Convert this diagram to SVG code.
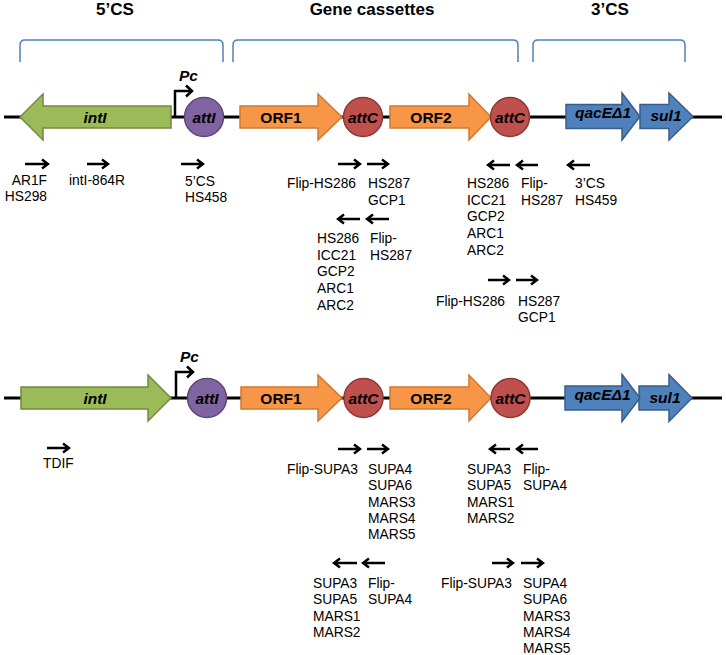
<svg xmlns="http://www.w3.org/2000/svg" width="726" height="655" viewBox="0 0 726 655">
<style>
.bg{fill:#ffffff}
.title{font-family:"Liberation Sans",Arial,sans-serif;font-size:17px;font-weight:bold;fill:#000;text-anchor:middle}
.brk{fill:none;stroke:#4f81bd;stroke-width:1.5}
.bb{stroke:#000;stroke-width:3;fill:none}
.prom{stroke:#000;stroke-width:2.5;fill:none;stroke-linejoin:miter}
.green{fill:#9bbb59;stroke:#71893f;stroke-width:1.5}
.purple{fill:#8064a2;stroke:#5c4776;stroke-width:1.5}
.orange{fill:#f79646;stroke:#d2782f;stroke-width:1.5}
.red{fill:#c0504d;stroke:#8c3836;stroke-width:1.5}
.blue{fill:#4f81bd;stroke:#385d8a;stroke-width:1.5}
.gl{font-family:"Liberation Sans",Arial,sans-serif;font-size:15.5px;font-weight:bold;fill:#000;text-anchor:middle}
.it{font-style:italic}
.pr{stroke:#000;stroke-width:2.4;fill:none}
.lb{font-family:"Liberation Sans",Arial,sans-serif;font-size:13.8px;fill:#000}
.end{text-anchor:end}
</style>
<rect class="bg" x="0" y="0" width="726" height="655"/>

<g id="titles">
<text class="title" x="115" y="15">5’CS</text>
<text class="title" x="372" y="15">Gene cassettes</text>
<text class="title" x="610" y="15">3’CS</text>
</g>

<g id="brackets">
<path class="brk" d="M20,62 V45 Q20,40 25,40 H218 Q223,40 223,45 V62"/>
<path class="brk" d="M233,62 V45 Q233,40 238,40 H513 Q518,40 518,45 V62"/>
<path class="brk" d="M533,62 V45 Q533,40 538,40 H680 Q685,40 685,45 V62"/>
</g>

<g id="connectors">
<line class="bb" x1="4" y1="117" x2="722" y2="117"/>
<line class="bb" x1="4" y1="398" x2="722" y2="398"/>
<path class="prom" d="M175,117 V91 H192 M186,85.5 L192,91 L186,96.5"/>
<path class="prom" d="M176,398 V372 H193 M187,366.5 L193,372 L187,377.5"/>
</g>

<!-- Row 1 -->
<g id="intI-1">
<polygon class="green" points="20,117 43,94 43,106 171,106 171,128 43,128 43,140"/>
<text class="gl it" x="95" y="122.5">intI</text>
</g>
<g id="Pc-1"><text class="gl it" x="179" y="81" style="text-anchor:start">Pc</text></g>
<g id="attI-1">
<circle class="purple" cx="204" cy="117" r="19.5"/>
<text class="gl it" x="204" y="122.5">attI</text>
</g>
<g id="ORF1-1">
<polygon class="orange" points="240,106 318,106 318,94 342,117 318,140 318,128 240,128"/>
<text class="gl" x="281" y="122.5">ORF1</text>
</g>
<g id="attC1-1">
<circle class="red" cx="363" cy="117" r="19.5"/>
<text class="gl it" x="363" y="122.5">attC</text>
</g>
<g id="ORF2-1">
<polygon class="orange" points="390,106 469,106 469,94 491,117 469,140 469,128 390,128"/>
<text class="gl" x="431" y="122.5">ORF2</text>
</g>
<g id="attC2-1">
<circle class="red" cx="510" cy="117" r="19.5"/>
<text class="gl it" x="510" y="122.5">attC</text>
</g>
<g id="sul1-1">
<polygon class="blue" points="640,104.5 669,104.5 669,93 693,116.5 669,140 669,128.5 640,128.5"/>
<text class="gl it" x="666" y="121">sul1</text>
</g>
<g id="qacE-1">
<polygon class="blue" points="566,104.5 622,104.5 622,93 640,116.5 622,140 622,128.5 566,128.5"/>
<text class="gl it" x="603" y="118">qacEΔ1</text>
</g>

<!-- Row 2 -->
<g id="intI-2">
<polygon class="green" points="21,387 148,387 148,375 171,398 148,421 148,409 21,409"/>
<text class="gl it" x="95" y="403.5">intI</text>
</g>
<g id="Pc-2"><text class="gl it" x="180" y="362" style="text-anchor:start">Pc</text></g>
<g id="attI-2">
<circle class="purple" cx="207" cy="398" r="19.5"/>
<text class="gl it" x="207" y="403.5">attI</text>
</g>
<g id="ORF1-2">
<polygon class="orange" points="241,387 318,387 318,375 342,398 318,421 318,409 241,409"/>
<text class="gl" x="281" y="403.5">ORF1</text>
</g>
<g id="attC1-2">
<circle class="red" cx="363.5" cy="398" r="19.5"/>
<text class="gl it" x="363.5" y="403.5">attC</text>
</g>
<g id="ORF2-2">
<polygon class="orange" points="390,387 469,387 469,375 491,398 469,421 469,409 390,409"/>
<text class="gl" x="431" y="403.5">ORF2</text>
</g>
<g id="attC2-2">
<circle class="red" cx="510.5" cy="398" r="19.5"/>
<text class="gl it" x="510.5" y="403.5">attC</text>
</g>
<g id="sul1-2">
<polygon class="blue" points="639,386 669,386 669,374.5 692,398 669,421.5 669,410 639,410"/>
<text class="gl it" x="665" y="402.5">sul1</text>
</g>
<g id="qacE-2">
<polygon class="blue" points="565,386 622,386 622,374.5 640,398 622,421.5 622,410 565,410"/>
<text class="gl it" x="602.5" y="400">qacEΔ1</text>
</g>

<!-- primers row 1 -->
<g id="primers-1">
<path class="pr" d="M25,164 H48 M42,159.5 L48,164 L42,168.5"/>
<path class="pr" d="M87,164 H108 M102,159.5 L108,164 L102,168.5"/>
<path class="pr" d="M181,164 H203 M197,159.5 L203,164 L197,168.5"/>
<path class="pr" d="M338,164 H360 M354,159.5 L360,164 L354,168.5"/>
<path class="pr" d="M367,164 H388 M382,159.5 L388,164 L382,168.5"/>
<path class="pr" d="M360,219 H338 M344,214.5 L338,219 L344,223.5"/>
<path class="pr" d="M389,219 H367 M373,214.5 L367,219 L373,223.5"/>
<path class="pr" d="M510,165 H488 M494,160.5 L488,165 L494,169.5"/>
<path class="pr" d="M538,165 H517 M523,160.5 L517,165 L523,169.5"/>
<path class="pr" d="M590,165 H568 M574,160.5 L568,165 L574,169.5"/>
<path class="pr" d="M488,280 H509 M503,275.5 L509,280 L503,284.5"/>
<path class="pr" d="M516,280 H537 M531,275.5 L537,280 L531,284.5"/>

<text class="lb end" x="47" y="185"><tspan x="47">AR1F</tspan><tspan x="47" dy="16">HS298</tspan></text>
<text class="lb" x="69" y="185">intI-864R</text>
<text class="lb" x="185" y="186"><tspan x="185">5’CS</tspan><tspan x="185" dy="16">HS458</tspan></text>
<text class="lb end" x="356" y="188">Flip-HS286</text>
<text class="lb" x="368" y="188"><tspan x="368">HS287</tspan><tspan x="368" dy="16.7">GCP1</tspan></text>
<text class="lb" x="317" y="243"><tspan x="317">HS286</tspan><tspan x="317" dy="16.7">ICC21</tspan><tspan x="317" dy="16.7">GCP2</tspan><tspan x="317" dy="16.7">ARC1</tspan><tspan x="317" dy="16.7">ARC2</tspan></text>
<text class="lb" x="370" y="243"><tspan x="370">Flip-</tspan><tspan x="370" dy="16.7">HS287</tspan></text>
<text class="lb" x="467" y="188"><tspan x="467">HS286</tspan><tspan x="467" dy="16.7">ICC21</tspan><tspan x="467" dy="16.7">GCP2</tspan><tspan x="467" dy="16.7">ARC1</tspan><tspan x="467" dy="16.7">ARC2</tspan></text>
<text class="lb" x="521" y="188"><tspan x="521">Flip-</tspan><tspan x="521" dy="16.7">HS287</tspan></text>
<text class="lb" x="575" y="188"><tspan x="575">3’CS</tspan><tspan x="575" dy="16.7">HS459</tspan></text>
<text class="lb end" x="505" y="305.5">Flip-HS286</text>
<text class="lb" x="518" y="305.5"><tspan x="518">HS287</tspan><tspan x="518" dy="16.7">GCP1</tspan></text>
</g>

<!-- primers row 2 -->
<g id="primers-2">
<path class="pr" d="M47,448 H69 M63,443.5 L69,448 L63,452.5"/>
<path class="pr" d="M338,449 H360 M354,444.5 L360,449 L354,453.5"/>
<path class="pr" d="M367,449 H388 M382,444.5 L388,449 L382,453.5"/>
<path class="pr" d="M510,449 H490 M496,444.5 L490,449 L496,453.5"/>
<path class="pr" d="M538,449 H517 M523,444.5 L517,449 L523,453.5"/>
<path class="pr" d="M357,563 H334 M340,558.5 L334,563 L340,567.5"/>
<path class="pr" d="M385,563 H363 M369,558.5 L363,563 L369,567.5"/>
<path class="pr" d="M492,563 H513 M507,558.5 L513,563 L507,567.5"/>
<path class="pr" d="M521,563 H543 M537,558.5 L543,563 L537,567.5"/>

<text class="lb" x="43" y="468">TDIF</text>
<text class="lb end" x="358" y="474">Flip-SUPA3</text>
<text class="lb" x="368" y="474"><tspan x="368">SUPA4</tspan><tspan x="368" dy="16.3">SUPA6</tspan><tspan x="368" dy="16.3">MARS3</tspan><tspan x="368" dy="16.3">MARS4</tspan><tspan x="368" dy="16.3">MARS5</tspan></text>
<text class="lb" x="467" y="474"><tspan x="467">SUPA3</tspan><tspan x="467" dy="16.3">SUPA5</tspan><tspan x="467" dy="16.3">MARS1</tspan><tspan x="467" dy="16.3">MARS2</tspan></text>
<text class="lb" x="523" y="474"><tspan x="523">Flip-</tspan><tspan x="523" dy="16.3">SUPA4</tspan></text>
<text class="lb" x="313" y="588"><tspan x="313">SUPA3</tspan><tspan x="313" dy="16.3">SUPA5</tspan><tspan x="313" dy="16.3">MARS1</tspan><tspan x="313" dy="16.3">MARS2</tspan></text>
<text class="lb" x="368" y="588"><tspan x="368">Flip-</tspan><tspan x="368" dy="16.3">SUPA4</tspan></text>
<text class="lb end" x="512" y="588">Flip-SUPA3</text>
<text class="lb" x="523" y="588"><tspan x="523">SUPA4</tspan><tspan x="523" dy="16.3">SUPA6</tspan><tspan x="523" dy="16.3">MARS3</tspan><tspan x="523" dy="16.3">MARS4</tspan><tspan x="523" dy="16.3">MARS5</tspan></text>
</g>
</svg>
